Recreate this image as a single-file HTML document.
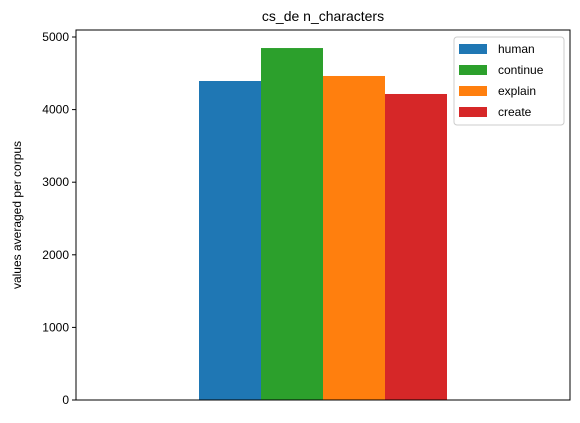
<!DOCTYPE html>
<html><head><meta charset="utf-8"><style>
body{margin:0;background:#fff;font-family:"Liberation Sans",sans-serif;}
svg text{font-family:"Liberation Sans",sans-serif;fill:#000;}
</style></head><body>
<svg id="chart" width="580" height="418">
<text x="323" y="21" font-size="14" text-anchor="middle">cs_de n_characters</text>
<g id="bars"></g>
<g id="yaxis"></g>
<rect x="76" y="30" width="494" height="370" fill="none" stroke="#000" stroke-width="1"/>
<text transform="translate(21,215) rotate(-90)" font-size="12" text-anchor="middle">values averaged per corpus</text>
<g id="legend"></g>
</svg>
<script>
const categories=["human","continue","explain","create"];
const values=[4394,4848,4463,4215];
const colors=["#1f77b4","#2ca02c","#ff7f0e","#d62728"];
const yTicks=[0,1000,2000,3000,4000,5000];
const ns="http://www.w3.org/2000/svg";
const y0=400,pxPer=72.6/1000;
const y=v=>y0-v*pxPer;
const barW=62,startX=199;
const bars=document.getElementById('bars');
values.forEach((v,i)=>{
 const r=document.createElementNS(ns,'rect');
 r.setAttribute('x',startX+i*barW);r.setAttribute('y',y(v));
 r.setAttribute('width',barW);r.setAttribute('height',y0-y(v));
 r.setAttribute('fill',colors[i]);
 
 
 bars.appendChild(r);
});
const ya=document.getElementById('yaxis');
yTicks.forEach(t=>{
 const l=document.createElementNS(ns,'line');
 l.setAttribute('x1',72);l.setAttribute('x2',76);l.setAttribute('y1',y(t));l.setAttribute('y2',y(t));l.setAttribute('stroke','#000');
 
 
 ya.appendChild(l);
 const tx=document.createElementNS(ns,'text');
 tx.setAttribute('x',69);tx.setAttribute('y',y(t)+4);tx.setAttribute('font-size','12');tx.setAttribute('text-anchor','end');
 tx.textContent=t;
 
 
 ya.appendChild(tx);
});
const lg=document.getElementById('legend');
const box=document.createElementNS(ns,'rect');
box.setAttribute('x',454);box.setAttribute('y',37);box.setAttribute('width',110);box.setAttribute('height',88);box.setAttribute('rx',3);
box.setAttribute('fill','#fff');box.setAttribute('fill-opacity','0.8');box.setAttribute('stroke','#ccc');


lg.appendChild(box);
categories.forEach((c,i)=>{
 const yy=48+i*21;
 const s=document.createElementNS(ns,'rect');
 s.setAttribute('x',459);s.setAttribute('y',yy-4);s.setAttribute('width',28);s.setAttribute('height',10);s.setAttribute('fill',colors[i]);
 
 
 lg.appendChild(s);
 const t=document.createElementNS(ns,'text');
 t.setAttribute('x',498);t.setAttribute('y',yy+5);t.setAttribute('font-size','12');t.textContent=c;
 
 
 lg.appendChild(t);
});
</script>
</body></html>
